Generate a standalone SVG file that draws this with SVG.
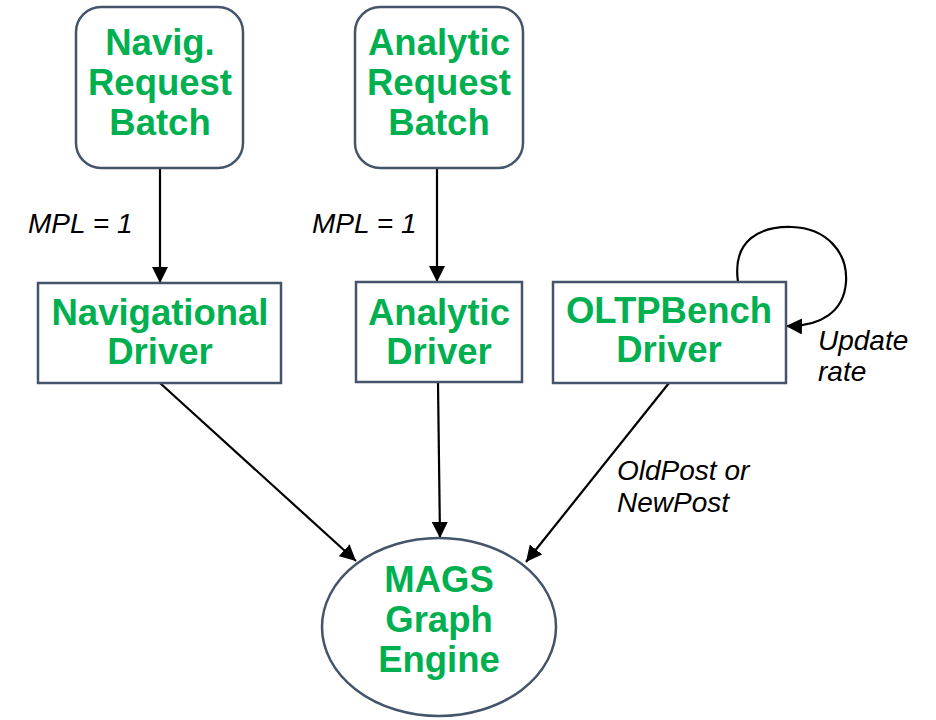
<svg xmlns="http://www.w3.org/2000/svg" width="936" height="720" viewBox="0 0 936 720">
<style>
.node{fill:#fff;stroke:#44546A;stroke-width:2.5}
.t{font-family:"Liberation Sans",Arial,sans-serif;font-weight:bold;font-size:36.5px;fill:#00B050;text-anchor:middle}
.l{font-family:"Liberation Sans",Arial,sans-serif;font-style:italic;font-size:28px;fill:#000}
.c{fill:none;stroke:#000;stroke-width:2.2}
</style>
<defs>
<marker id="ah" markerUnits="userSpaceOnUse" markerWidth="18" markerHeight="16" refX="16" refY="8" orient="auto">
<path d="M0,0 L16,8 L0,16 Z" fill="#000"/>
</marker>
</defs>
<rect width="936" height="720" fill="#fff"/>
<g id="connectors">
<line class="c" x1="160" y1="168" x2="160" y2="283" marker-end="url(#ah)"/>
<line class="c" x1="437" y1="168" x2="437" y2="282" marker-end="url(#ah)"/>
<line class="c" x1="160" y1="383" x2="356" y2="561" marker-end="url(#ah)"/>
<line class="c" x1="438" y1="383" x2="440" y2="538" marker-end="url(#ah)"/>
<line class="c" x1="669" y1="383" x2="526" y2="562" marker-end="url(#ah)"/>
<path class="c" d="M738,282 C732,240 760,226 792,227 C826,228 848,252 846,282 C844,312 820,327 786,326" marker-end="url(#ah)"/>
</g>
<g id="labels">
<text class="l" x="28" y="233">MPL = 1</text>
<text class="l" x="312" y="233">MPL = 1</text>
<text class="l" x="818" y="350">Update</text>
<text class="l" x="818" y="381">rate</text>
<text class="l" x="617" y="480">OldPost or</text>
<text class="l" x="617" y="512">NewPost</text>
</g>
<g id="navBatch">
<rect class="node" x="76" y="7" width="167" height="161" rx="25"/>
<text class="t" x="160" y="55">Navig.</text>
<text class="t" x="160" y="95">Request</text>
<text class="t" x="160" y="135">Batch</text>
</g>
<g id="anaBatch">
<rect class="node" x="355" y="7" width="168" height="161" rx="25"/>
<text class="t" x="439" y="55">Analytic</text>
<text class="t" x="439" y="95">Request</text>
<text class="t" x="439" y="135">Batch</text>
</g>
<g id="navDriver">
<rect class="node" x="38" y="283" width="243" height="100"/>
<text class="t" x="160" y="325">Navigational</text>
<text class="t" x="160" y="364">Driver</text>
</g>
<g id="anaDriver">
<rect class="node" x="356" y="282" width="166" height="100"/>
<text class="t" x="439" y="325">Analytic</text>
<text class="t" x="439" y="364">Driver</text>
</g>
<g id="oltpDriver">
<rect class="node" x="553" y="282" width="233" height="101"/>
<text class="t" x="669" y="323">OLTPBench</text>
<text class="t" x="669" y="362">Driver</text>
</g>
<g id="engine">
<ellipse class="node" cx="439" cy="627" rx="117" ry="89"/>
<text class="t" x="439" y="592">MAGS</text>
<text class="t" x="439" y="632">Graph</text>
<text class="t" x="439" y="672">Engine</text>
</g>
</svg>
